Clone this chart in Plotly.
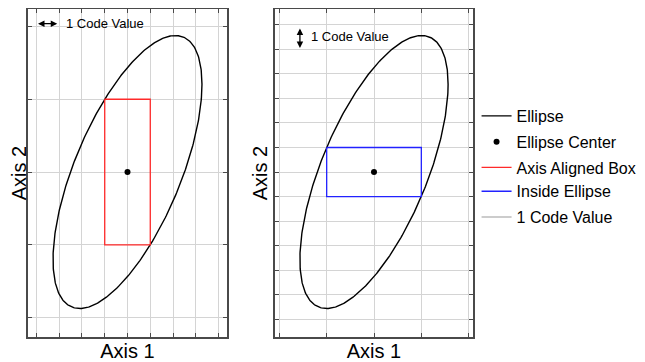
import numpy as np
import plotly.graph_objects as go

# ---- data (code-value units) ----
ellipse_center = [0.0, 0.0]
ellipse_cov = [[10.7, 11.7], [11.7, 31.0]]   # covariance defining the ellipse
code_value = 1.0                                # one code value step
left_xticks = [-4, -3, -2, -1, 0, 1, 2, 3, 4]
right_yticks = [-6, -5, -4, -3, -2, -1, 0, 1, 2, 3, 4, 5, 6]
grid_multiples = [-2, -1, 0, 1, 2]
legend_labels = ["Ellipse", "Ellipse Center", "Axis Aligned Box", "Inside Ellipse", "1 Code Value"]

sxx, sxy = ellipse_cov[0]
syy = ellipse_cov[1][1]
det = sxx * syy - sxy * sxy
cx, cy = ellipse_center

# ellipse outline from covariance
t = np.linspace(0, 2 * np.pi, 400)
L = np.linalg.cholesky(np.array(ellipse_cov))
pts = L @ np.vstack([np.cos(t), np.sin(t)])
ex, ey = pts[0] + cx, pts[1] + cy

# box with half-width = 1 code value (corners on ellipse)
a = code_value
b_left = (-2 * sxy * a + np.sqrt((2 * sxy * a) ** 2 - 4 * sxx * (syy * a * a - det))) / (2 * sxx)
# box with half-height = 1 code value
bh = code_value
a_right = (-2 * sxy * bh + np.sqrt((2 * sxy * bh) ** 2 - 4 * syy * (sxx * bh * bh - det))) / (2 * syy)

def box(hw, hh):
    return ([cx - hw, cx + hw, cx + hw, cx - hw, cx - hw],
            [cy + hh, cy + hh, cy - hh, cy - hh, cy + hh])

lbx, lby = box(a, b_left)
rbx, rby = box(a_right, bh)

FONT = "Liberation Sans, Arial, Helvetica, sans-serif"
GRID = "#d4d4d4"
FRAME = "#4a4a4a"

fig = go.Figure()
# left panel
fig.add_trace(go.Scatter(x=ex, y=ey, mode="lines", line=dict(color="black", width=1.4),
                         name=legend_labels[0], legendgroup="g1", xaxis="x", yaxis="y"))
fig.add_trace(go.Scatter(x=[cx], y=[cy], mode="markers", marker=dict(color="black", size=6),
                         name=legend_labels[1], legendgroup="g2", xaxis="x", yaxis="y"))
fig.add_trace(go.Scatter(x=lbx, y=lby, mode="lines", line=dict(color="#ff2a2a", width=1.3),
                         name=legend_labels[2], legendgroup="g3", xaxis="x", yaxis="y"))
# right panel
fig.add_trace(go.Scatter(x=ex, y=ey, mode="lines", line=dict(color="black", width=1.4),
                         showlegend=False, xaxis="x2", yaxis="y2"))
fig.add_trace(go.Scatter(x=rbx, y=rby, mode="lines", line=dict(color="#2222ff", width=1.3),
                         name=legend_labels[3], legendgroup="g3", xaxis="x2", yaxis="y2"))
fig.add_trace(go.Scatter(x=[cx], y=[cy], mode="markers", marker=dict(color="black", size=6),
                         showlegend=False, xaxis="x2", yaxis="y2"))
# legend-only grid entry
fig.add_trace(go.Scatter(x=[None], y=[None], mode="lines", line=dict(color="#bbbbbb", width=1.5),
                         name=legend_labels[4], legendgroup="g4", xaxis="x2", yaxis="y2"))

xr = [-4.37, 4.37]
yr = [-6.73, 6.65]
axis_common = dict(showgrid=True, gridcolor=GRID, gridwidth=1, zeroline=False,
                   showline=True, linecolor=FRAME, linewidth=1.5, mirror="ticks",
                   ticks="inside", ticklen=4, tickcolor=FRAME, tickwidth=1,
                   showticklabels=False, fixedrange=True, automargin=False)

# page body adds an 8px offset, so the figure is laid out 8px smaller
W, H = 637, 354
ML, MR, MT, MB = 20, 172, 1, 25
w_plot = W - ML - MR
title_font = dict(size=20, family=FONT)
fig.update_layout(
    width=W, height=H,
    margin=dict(l=ML, r=MR, t=MT, b=MB, autoexpand=False),
    plot_bgcolor="white", paper_bgcolor="white",
    font=dict(family=FONT, color="black"),
    xaxis=dict(domain=[0, 199 / w_plot], range=xr, tickmode="array", tickvals=left_xticks,
               title=dict(text="Axis 1", font=title_font, standoff=6), **axis_common),
    yaxis=dict(domain=[0, 1], range=yr, tickmode="array",
               tickvals=[k * b_left for k in grid_multiples],
               title=dict(text="Axis 2", font=title_font, standoff=2), **axis_common),
    xaxis2=dict(domain=[247 / w_plot, 1], range=xr, tickmode="array",
                tickvals=[k * a_right for k in grid_multiples], anchor="y2",
                title=dict(text="Axis 1", font=title_font, standoff=6), **axis_common),
    yaxis2=dict(domain=[0, 1], range=yr, tickmode="array", tickvals=right_yticks, anchor="x2",
                title=dict(text="Axis 2", font=title_font, standoff=0), **axis_common),
    legend=dict(x=1.008, xanchor="left", y=0.52, yanchor="middle",
                font=dict(size=16, family=FONT), tracegroupgap=2,
                bgcolor="rgba(0,0,0,0)", traceorder="grouped"),
    showlegend=True,
)

# "1 Code Value" indicators
fig.add_annotation(x=-3.93, y=6.05, ax=-3.02, ay=6.05, xref="x", yref="y", axref="x", ayref="y",
                   text="", showarrow=True, arrowhead=2, arrowside="end+start",
                   arrowsize=1, arrowwidth=1.3, arrowcolor="black", standoff=0, startstandoff=0)
fig.add_annotation(x=-2.79, y=6.05, xref="x", yref="y", text="1 Code Value", showarrow=False,
                   xanchor="left", yanchor="middle", font=dict(size=13, family=FONT))
fig.add_annotation(x=-3.27, y=5.06, ax=-3.27, ay=5.92, xref="x2", yref="y2", axref="x2", ayref="y2",
                   text="", showarrow=True, arrowhead=2, arrowside="end+start",
                   arrowsize=1, arrowwidth=1.3, arrowcolor="black", standoff=0, startstandoff=0)
fig.add_annotation(x=-2.88, y=5.51, xref="x2", yref="y2", text="1 Code Value", showarrow=False,
                   xanchor="left", yanchor="middle", font=dict(size=13, family=FONT))

fig.write_html("out.html")
